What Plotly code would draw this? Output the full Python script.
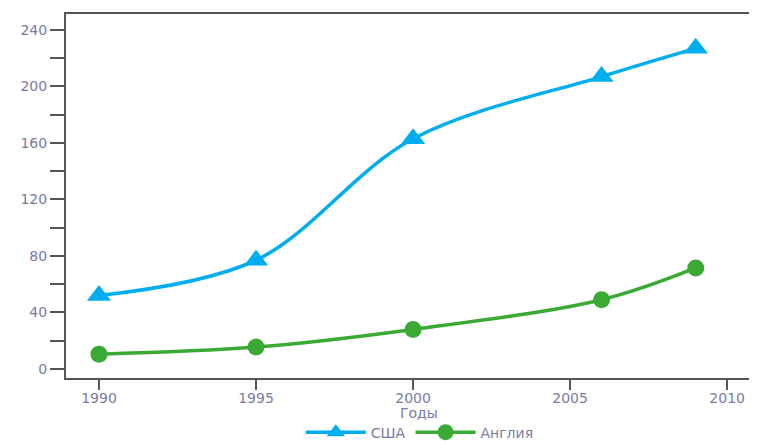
import plotly.graph_objects as go

years_usa = [1990, 1995, 2000, 2006, 2009]
usa = [52, 77, 163, 207, 227]
years_uk = [1990, 1995, 2000, 2006, 2009]
uk = [10.5, 15.5, 28, 49, 71.5]
y_ticks = [0, 40, 80, 120, 160, 200, 240]
x_ticks = [1990, 1995, 2000, 2005, 2010]

BLUE = "#00AEEF"
GREEN = "#3AAA35"
LBL = "#7b7aa3"
AX = "#555555"
FONT = "DejaVu Sans, Liberation Sans, sans-serif"

fig = go.Figure()
fig.add_trace(go.Scatter(x=years_usa, y=usa, name="США", mode="lines+markers",
                         line=dict(color=BLUE, width=3.5, shape="spline", smoothing=1.0),
                         marker=dict(symbol="triangle-up", size=21, color=BLUE)))
fig.add_trace(go.Scatter(x=years_uk, y=uk, name="Англия", mode="lines+markers",
                         line=dict(color=GREEN, width=3.5, shape="spline", smoothing=1.0),
                         marker=dict(symbol="circle", size=17, color=GREEN)))

fig.update_layout(
    width=749, height=433,
    margin=dict(l=58, r=0, t=6, b=63, autoexpand=False),
    paper_bgcolor="white", plot_bgcolor="white",
    font=dict(family=FONT, size=14, color=LBL),
    showlegend=True,
    legend=dict(orientation="h", x=0.512, xanchor="center", y=-0.15, yanchor="middle",
                font=dict(family=FONT, size=14, color=LBL), itemwidth=60,
                bgcolor="rgba(0,0,0,0)"),
    annotations=[dict(text="Годы", x=0.511, y=-0.095, xref="paper", yref="paper",
                      xanchor="center", yanchor="middle", showarrow=False,
                      font=dict(family=FONT, size=14, color=LBL))],
)
fig.update_xaxes(range=[1988.95, 2010.95], tickmode="array", tickvals=x_ticks,
                 ticktext=[str(v) for v in x_ticks], automargin=False,
                 ticklabelstandoff=-4,
                 showgrid=False, zeroline=False, showline=True, linecolor=AX, linewidth=2,
                 mirror=True, ticks="outside", ticklen=10, tickwidth=2, tickcolor=AX)
fig.update_yaxes(range=[-6.4, 251.3], tickmode="array", tickvals=y_ticks, automargin=False,
                 showgrid=False, zeroline=False, showline=True, linecolor=AX, linewidth=2,
                 ticks="outside", ticklen=14, tickwidth=2, tickcolor=AX,
                 minor=dict(dtick=20, tick0=0, ticks="outside", ticklen=14, tickwidth=2,
                            tickcolor=AX, showgrid=False))

fig.write_html("out.html")
